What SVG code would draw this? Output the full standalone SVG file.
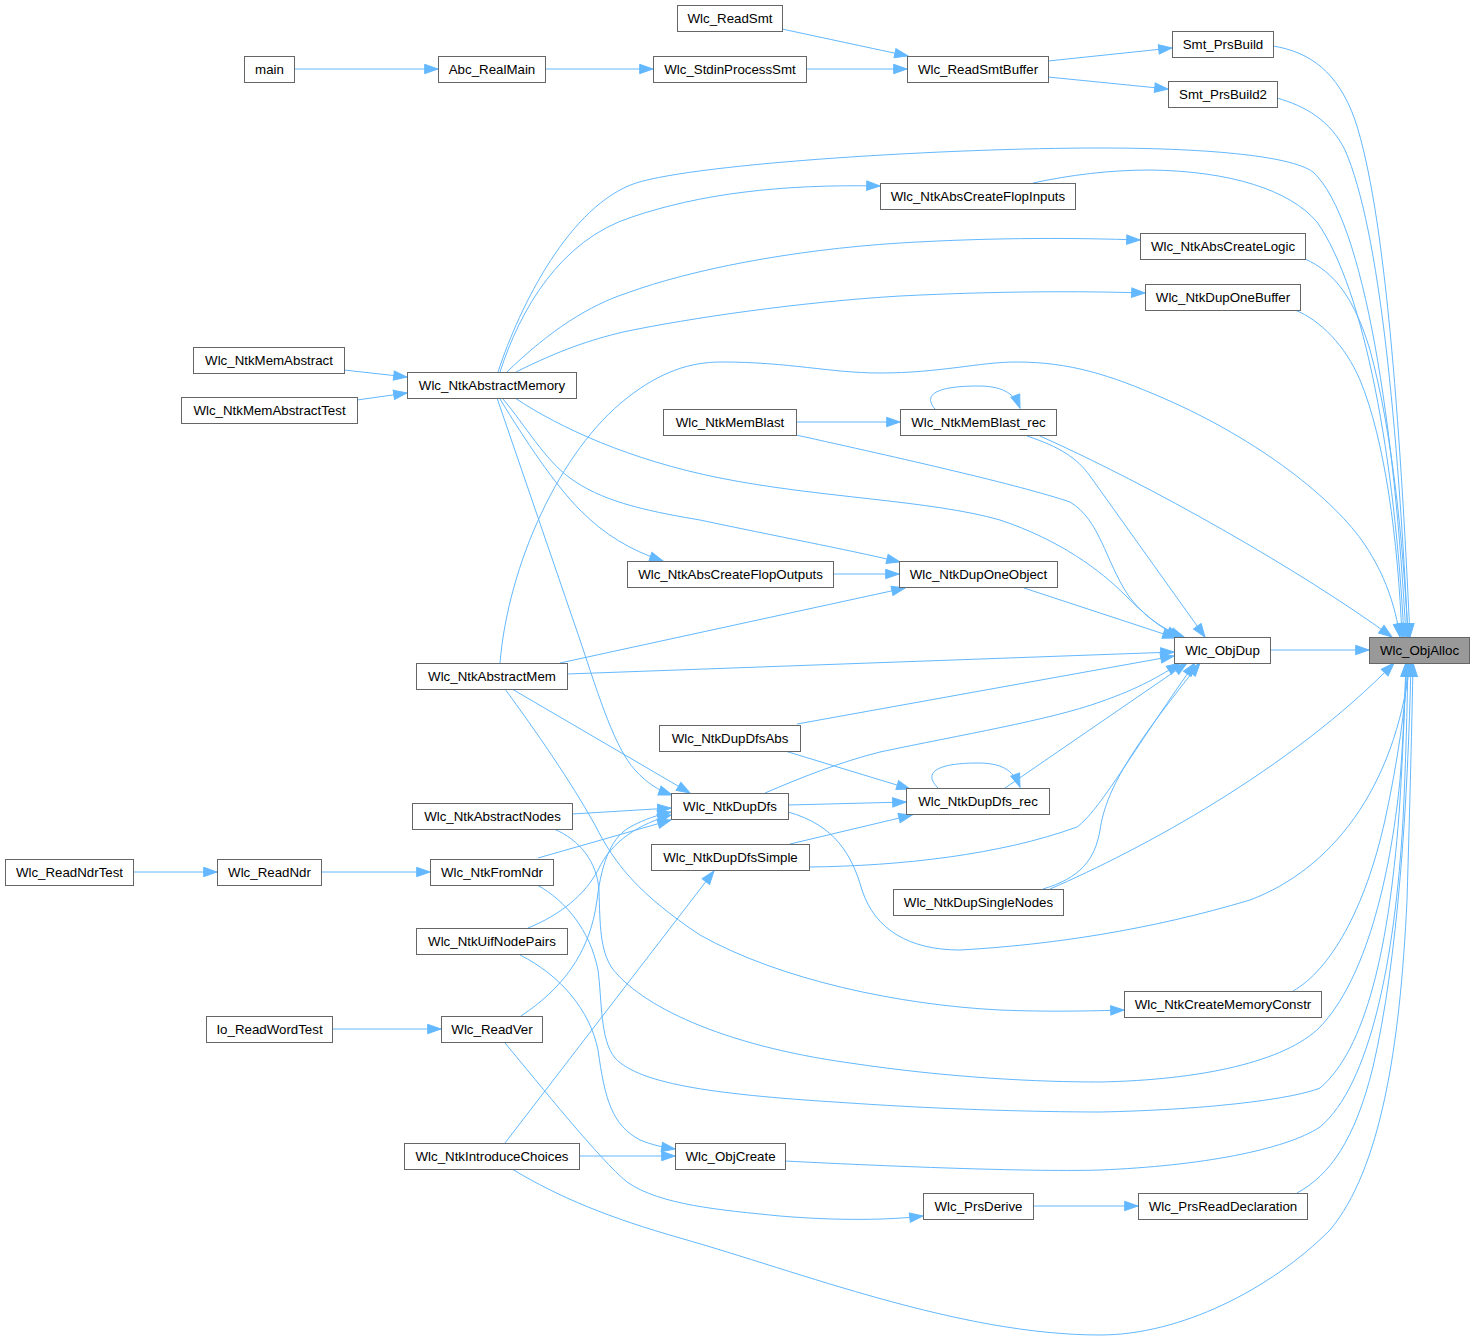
<svg xmlns="http://www.w3.org/2000/svg" width="1475" height="1344" viewBox="0 0 1475 1344">
<defs>
<style>
.n rect{fill:#ffffff;stroke:#666666;stroke-width:1}
.n.hl rect{fill:#999999}
.n text{font-family:"Liberation Sans",Arial,sans-serif;font-size:13.3px;fill:#000000;text-anchor:middle}
#edges path{fill:none;stroke:#63b8ff;stroke-width:1;marker-end:url(#ah)}
</style>
<marker id="ah" markerUnits="userSpaceOnUse" markerWidth="14" markerHeight="10" refX="13.3" refY="4.67" orient="auto" overflow="visible">
<path d="M0,0 L13.3,4.67 L0,9.33 z" fill="#63b8ff" stroke="#63b8ff" stroke-width="1"/>
</marker>
</defs>
<rect width="1475" height="1344" fill="#ffffff"/>
<g id="edges">
<path d="M294,69 L438,69"/>
<path d="M545,69 L653,69"/>
<path d="M806,69 L907,69"/>
<path d="M782,29 L908,56"/>
<path d="M1048,61 L1172,48"/>
<path d="M1048,77 L1168,89"/>
<path d="M1273,46 C1310,52 1338,72 1355,120 C1385,210 1400,420 1410,637"/>
<path d="M1277,98 C1305,106 1330,120 1345,150 C1380,230 1398,430 1408,637"/>
<path d="M498,372 C520,305 570,205 636,183 C700,163 950,148 1100,148 C1200,148 1290,155 1313,172 C1365,220 1395,430 1406,637"/>
<path d="M1033,183 C1070,175 1110,170 1150,170 C1230,171 1290,190 1317,222 C1365,290 1395,460 1404,637"/>
<path d="M1305,259 C1335,272 1355,300 1370,350 C1392,430 1403,540 1408,637"/>
<path d="M1295,310 C1320,320 1345,345 1360,380 C1385,440 1398,540 1402,637"/>
<path d="M500,663 C508,565 560,450 627,398 C660,372 690,362 721,362 C790,362 830,373 880,373 C940,373 980,362 1016,362 C1070,362 1110,375 1163,398 C1260,440 1335,500 1365,545 C1385,575 1395,605 1400,637"/>
<path d="M1040,436 C1150,485 1300,570 1392,637"/>
<path d="M1270,650 L1369,650"/>
<path d="M1050,889 C1140,850 1290,770 1394,663"/>
<path d="M788,812 C835,825 852,855 862,890 C875,930 910,950 960,950 C1050,945 1150,930 1250,900 C1330,870 1395,790 1410,663"/>
<path d="M1293,991 C1330,970 1365,910 1385,820 C1398,760 1405,710 1408,663"/>
<path d="M554,829 C580,840 597,862 599,890 C600,925 600,950 612,968 C640,1005 720,1045 850,1063 C950,1078 1040,1082 1100,1082 C1200,1080 1285,1062 1320,1027 C1365,980 1390,880 1400,780 C1403,740 1405,700 1406,663"/>
<path d="M537,885 C565,900 590,930 598,970 C602,1000 600,1040 615,1058 C640,1085 720,1095 850,1103 C950,1110 1050,1112 1100,1112 C1200,1110 1290,1100 1320,1088 C1365,1050 1390,950 1400,800 C1403,750 1405,700 1406,663"/>
<path d="M785,1161 C900,1167 1040,1172 1100,1170 C1200,1166 1285,1150 1320,1127 C1370,1085 1395,960 1403,820 C1406,760 1407,710 1408,663"/>
<path d="M1297,1193 C1330,1175 1355,1140 1373,1067 C1398,960 1408,800 1411,663"/>
<path d="M512,1169 C560,1198 610,1218 680,1238 C800,1272 960,1335 1100,1335 C1180,1335 1270,1290 1330,1230 C1380,1170 1400,1050 1407,900 C1410,800 1412,720 1413,663"/>
<path d="M515,398 C560,428 630,460 720,478 C820,498 930,500 1000,520 C1060,540 1100,570 1125,595 C1145,615 1160,628 1180,637"/>
<path d="M796,435 C900,458 1020,485 1070,502 C1100,520 1105,560 1128,595 C1145,618 1165,630 1184,637"/>
<path d="M1027,436 C1060,447 1077,458 1090,476 L1205,637"/>
<path d="M1024,588 L1176,638"/>
<path d="M567,674 L1174,652"/>
<path d="M797,724 L1174,656"/>
<path d="M765,793 C800,778 840,762 880,752 C960,735 1050,720 1100,702 C1140,688 1160,676 1180,663"/>
<path d="M1005,788 L1187,663"/>
<path d="M809,867 C900,866 1000,855 1077,827 C1100,810 1130,755 1195,663"/>
<path d="M1043,889 C1080,878 1095,860 1100,830 C1106,790 1130,750 1200,663"/>
<path d="M785,751 L910,789"/>
<path d="M788,805 L906,802"/>
<path d="M790,844 L912,815"/>
<path d="M938,788 C922,772 938,763 978,763 C1000,763 1013,769 1020,787"/>
<path d="M935,409 C922,394 938,386 978,386 C1000,386 1014,392 1020,408"/>
<path d="M497,398 L580,640 C600,700 615,748 635,770 C648,784 658,790 672,795"/>
<path d="M512,689 L690,793"/>
<path d="M572,814 L671,808"/>
<path d="M538,858 L671,820"/>
<path d="M528,928 C560,915 585,895 598,870 C612,840 640,824 671,815"/>
<path d="M521,1016 C560,990 590,955 597,900 C602,860 612,836 632,826 C645,819 658,815 671,812"/>
<path d="M505,1143 L714,871"/>
<path d="M579,1156 L675,1156"/>
<path d="M520,955 C560,975 590,1010 598,1050 C605,1100 612,1125 640,1140 C652,1145 662,1147 675,1149"/>
<path d="M505,1043 C540,1085 600,1160 627,1182 C660,1205 720,1210 780,1216 C840,1221 890,1220 923,1216"/>
<path d="M1033,1206 L1138,1206"/>
<path d="M505,689 C535,730 570,780 595,825 C615,865 640,895 700,935 C780,980 900,1005 1000,1010 C1050,1012 1090,1011 1124,1010"/>
<path d="M344,370 L407,377"/>
<path d="M357,400 L407,393"/>
<path d="M321,872 L430,872"/>
<path d="M133,872 L217,872"/>
<path d="M332,1029 L441,1029"/>
<path d="M796,422 L900,422"/>
<path d="M833,574 L899,574"/>
<path d="M500,372 C520,310 560,240 632,217 C700,194 780,184 880,186"/>
<path d="M507,372 C550,330 590,305 627,293 C690,270 790,250 900,243 C1000,237 1080,238 1140,240"/>
<path d="M516,372 C560,350 590,340 623,332 C690,318 800,302 900,296 C1000,291 1080,291 1145,293"/>
<path d="M500,399 C525,440 555,485 580,510 C605,535 630,550 663,561"/>
<path d="M503,399 C525,425 545,460 570,478 C600,500 640,510 700,520 C780,537 840,548 900,562"/>
<path d="M560,663 L905,588"/>
</g>
<g id="n_ObjAlloc" class="n hl"><rect x="1369.5" y="637.5" width="100" height="26"/><text x="1419.5" y="655">Wlc_ObjAlloc</text></g>
<g id="n_ObjDup" class="n"><rect x="1174.5" y="637.5" width="96" height="26"/><text x="1222.5" y="655">Wlc_ObjDup</text></g>
<g id="n_SmtPrsBuild" class="n"><rect x="1172.5" y="31.5" width="101" height="26"/><text x="1223" y="49">Smt_PrsBuild</text></g>
<g id="n_SmtPrsBuild2" class="n"><rect x="1168.5" y="81.5" width="109" height="26"/><text x="1223" y="99">Smt_PrsBuild2</text></g>
<g id="n_ReadSmt" class="n"><rect x="677.5" y="5.5" width="105" height="26"/><text x="730" y="23">Wlc_ReadSmt</text></g>
<g id="n_main" class="n"><rect x="244.5" y="56.5" width="50" height="26"/><text x="269.5" y="74">main</text></g>
<g id="n_AbcRealMain" class="n"><rect x="438.5" y="56.5" width="107" height="26"/><text x="492" y="74">Abc_RealMain</text></g>
<g id="n_StdinProcessSmt" class="n"><rect x="653.5" y="56.5" width="153" height="26"/><text x="730" y="74">Wlc_StdinProcessSmt</text></g>
<g id="n_ReadSmtBuffer" class="n"><rect x="907.5" y="56.5" width="141" height="26"/><text x="978" y="74">Wlc_ReadSmtBuffer</text></g>
<g id="n_AbsCreateFlopInputs" class="n"><rect x="880.5" y="183.5" width="195" height="26"/><text x="978" y="201">Wlc_NtkAbsCreateFlopInputs</text></g>
<g id="n_AbsCreateLogic" class="n"><rect x="1140.5" y="233.5" width="165" height="26"/><text x="1223" y="251">Wlc_NtkAbsCreateLogic</text></g>
<g id="n_DupOneBuffer" class="n"><rect x="1145.5" y="284.5" width="155" height="26"/><text x="1223" y="302">Wlc_NtkDupOneBuffer</text></g>
<g id="n_MemAbstract" class="n"><rect x="193.5" y="347.5" width="151" height="26"/><text x="269" y="365">Wlc_NtkMemAbstract</text></g>
<g id="n_AbstractMemory" class="n"><rect x="407.5" y="372.5" width="169" height="26"/><text x="492" y="390">Wlc_NtkAbstractMemory</text></g>
<g id="n_MemAbstractTest" class="n"><rect x="181.5" y="397.5" width="176" height="26"/><text x="269.5" y="415">Wlc_NtkMemAbstractTest</text></g>
<g id="n_MemBlast" class="n"><rect x="663.5" y="409.5" width="133" height="26"/><text x="730" y="427">Wlc_NtkMemBlast</text></g>
<g id="n_MemBlastRec" class="n"><rect x="900.5" y="409.5" width="156" height="26"/><text x="978.5" y="427">Wlc_NtkMemBlast_rec</text></g>
<g id="n_AbsCreateFlopOutputs" class="n"><rect x="627.5" y="561.5" width="206" height="26"/><text x="730.5" y="579">Wlc_NtkAbsCreateFlopOutputs</text></g>
<g id="n_DupOneObject" class="n"><rect x="899.5" y="561.5" width="158" height="26"/><text x="978.5" y="579">Wlc_NtkDupOneObject</text></g>
<g id="n_AbstractMem" class="n"><rect x="416.5" y="663.5" width="151" height="26"/><text x="492" y="681">Wlc_NtkAbstractMem</text></g>
<g id="n_DupDfsAbs" class="n"><rect x="659.5" y="725.5" width="141" height="26"/><text x="730" y="743">Wlc_NtkDupDfsAbs</text></g>
<g id="n_DupDfsRec" class="n"><rect x="906.5" y="788.5" width="143" height="26"/><text x="978" y="806">Wlc_NtkDupDfs_rec</text></g>
<g id="n_DupDfs" class="n"><rect x="671.5" y="793.5" width="117" height="26"/><text x="730" y="811">Wlc_NtkDupDfs</text></g>
<g id="n_AbstractNodes" class="n"><rect x="412.5" y="803.5" width="160" height="26"/><text x="492.5" y="821">Wlc_NtkAbstractNodes</text></g>
<g id="n_DupDfsSimple" class="n"><rect x="651.5" y="844.5" width="158" height="26"/><text x="730.5" y="862">Wlc_NtkDupDfsSimple</text></g>
<g id="n_ReadNdrTest" class="n"><rect x="5.5" y="859.5" width="128" height="26"/><text x="69.5" y="877">Wlc_ReadNdrTest</text></g>
<g id="n_ReadNdr" class="n"><rect x="217.5" y="859.5" width="104" height="26"/><text x="269.5" y="877">Wlc_ReadNdr</text></g>
<g id="n_FromNdr" class="n"><rect x="430.5" y="859.5" width="123" height="26"/><text x="492" y="877">Wlc_NtkFromNdr</text></g>
<g id="n_DupSingleNodes" class="n"><rect x="893.5" y="889.5" width="170" height="26"/><text x="978.5" y="907">Wlc_NtkDupSingleNodes</text></g>
<g id="n_UifNodePairs" class="n"><rect x="416.5" y="928.5" width="151" height="26"/><text x="492" y="946">Wlc_NtkUifNodePairs</text></g>
<g id="n_CreateMemoryConstr" class="n"><rect x="1124.5" y="991.5" width="197" height="26"/><text x="1223" y="1009">Wlc_NtkCreateMemoryConstr</text></g>
<g id="n_IoReadWordTest" class="n"><rect x="206.5" y="1016.5" width="126" height="26"/><text x="269.5" y="1034">Io_ReadWordTest</text></g>
<g id="n_ReadVer" class="n"><rect x="441.5" y="1016.5" width="101" height="26"/><text x="492" y="1034">Wlc_ReadVer</text></g>
<g id="n_IntroduceChoices" class="n"><rect x="404.5" y="1143.5" width="175" height="26"/><text x="492" y="1161">Wlc_NtkIntroduceChoices</text></g>
<g id="n_ObjCreate" class="n"><rect x="675.5" y="1143.5" width="110" height="26"/><text x="730.5" y="1161">Wlc_ObjCreate</text></g>
<g id="n_PrsDerive" class="n"><rect x="923.5" y="1193.5" width="110" height="26"/><text x="978.5" y="1211">Wlc_PrsDerive</text></g>
<g id="n_PrsReadDeclaration" class="n"><rect x="1138.5" y="1193.5" width="169" height="26"/><text x="1223" y="1211">Wlc_PrsReadDeclaration</text></g>
</svg>
